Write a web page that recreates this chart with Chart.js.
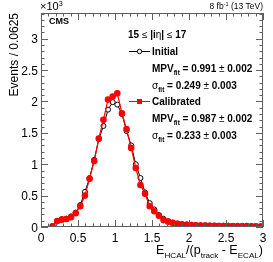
<!DOCTYPE html>
<html>
<head>
<meta charset="utf-8">
<script src="https://cdn.jsdelivr.net/npm/chart.js@4.4.1/dist/chart.umd.min.js"></script>
<style>
  html, body { margin: 0; padding: 0; background: #fff; }
  #wrap { width: 273px; height: 262px; position: relative; }
</style>
</head>
<body>
<div id="wrap"><canvas id="respChart" width="273" height="262"></canvas></div>
<script>
// bin centres of E_HCAL/(p_track - E_ECAL), bin width 0.0625
const binCenters = [0.156, 0.219, 0.281, 0.344, 0.406, 0.469, 0.531, 0.594, 0.656, 0.719,
  0.781, 0.844, 0.906, 0.969, 1.031, 1.094, 1.156, 1.219, 1.281, 1.344,
  1.406, 1.469, 1.531, 1.594, 1.656, 1.719, 1.781, 1.844, 1.906, 1.969,
  2.031, 2.094, 2.156, 2.219, 2.281, 2.344, 2.406, 2.469, 2.531, 2.594,
  2.656, 2.719, 2.781, 2.844, 2.906, 2.969];

// events (x10^3)
const initialEvents = [0.01, 0.09, 0.125, 0.13, 0.17, 0.23, 0.35, 0.56, 0.78, 1.07,
  1.40, 1.61, 1.87, 1.99, 1.95, 1.80, 1.53, 1.30, 1.00, 0.78,
  0.55, 0.38, 0.28, 0.19, 0.13, 0.09, 0.07, 0.055, 0.045, 0.04,
  0.035, 0.03, 0.028, 0.026, 0.024, 0.022, 0.021, 0.02, 0.02, 0.019,
  0.018, 0.018, 0.02, 0.012, 0.011, 0.01];
const calibratedEvents = [0.01, 0.096, 0.117, 0.128, 0.155, 0.22, 0.33, 0.50, 0.77, 1.05,
  1.41, 1.71, 2.03, 2.08, 2.13, 1.81, 1.56, 1.26, 0.94, 0.67,
  0.53, 0.33, 0.25, 0.18, 0.11, 0.085, 0.065, 0.05, 0.04, 0.035,
  0.03, 0.028, 0.025, 0.022, 0.02, 0.018, 0.016, 0.015, 0.014, 0.013,
  0.012, 0.011, 0.01, 0.01, 0.01, 0.009];

const xTickLabels = ['0', '0.5', '1', '1.5', '2', '2.5', '3'];
const yTickLabels = ['0', '0.5', '1', '1.5', '2', '2.5', '3'];

const FONT = '"Liberation Sans", Arial, Helvetica, sans-serif';

function toPoints(ys) {
  return binCenters.map((x, i) => ({ x: x, y: ys[i] }));
}

// text pieces: 'n' normal, 'r' normal size but regular weight, 'sub', 'sup'
function pieceFont(p, size, bold) {
  const s = (p[1] === 'sub' || p[1] === 'sup') ? size * 0.65 : size;
  const w = (bold && p[1] !== 'r') ? 'bold ' : '';
  return w + s + 'px ' + FONT;
}

function drawRich(ctx, parts, x, y, size, bold) {
  parts.forEach(p => {
    let dy = 0;
    if (p[1] === 'sub') dy = size * 0.3;
    if (p[1] === 'sup') dy = -size * 0.4;
    ctx.font = pieceFont(p, size, bold);
    ctx.fillText(p[0], x, y + dy);
    x += ctx.measureText(p[0]).width;
  });
  return x;
}

function richWidth(ctx, parts, size, bold) {
  let t = 0;
  parts.forEach(p => {
    ctx.font = pieceFont(p, size, bold);
    t += ctx.measureText(p[0]).width;
  });
  return t;
}

const rootFrame = {
  id: 'rootFrame',
  afterDraw(chart) {
    const ctx = chart.ctx;
    const xs = chart.scales.x, ys = chart.scales.y;
    const a = chart.chartArea;
    ctx.save();

    // frame
    ctx.strokeStyle = '#606060';
    ctx.lineWidth = 1;
    ctx.strokeRect(a.left + 0.5, a.top + 0.5, a.right - a.left - 1, a.bottom - a.top - 1);

    // ticks (inside, all four sides)
    ctx.beginPath();
    for (let i = 0; i <= 30; i++) {
      const v = i * 0.1;
      const px = Math.round(xs.getPixelForValue(v)) + 0.5;
      const len = i % 5 === 0 ? 7 : 3.5;
      ctx.moveTo(px, a.bottom); ctx.lineTo(px, a.bottom - len);
      ctx.moveTo(px, a.top); ctx.lineTo(px, a.top + len);
    }
    for (let i = 0; i <= 34; i++) {
      const v = i * 0.1;
      const py = Math.round(ys.getPixelForValue(v)) + 0.5;
      const len = i % 5 === 0 ? 7 : 3.5;
      ctx.moveTo(a.left, py); ctx.lineTo(a.left + len, py);
      ctx.moveTo(a.right, py); ctx.lineTo(a.right - len, py);
    }
    ctx.stroke();

    // tick labels
    ctx.fillStyle = '#000';
    ctx.font = '12px ' + FONT;
    ctx.textBaseline = 'alphabetic';
    ctx.textAlign = 'center';
    xTickLabels.forEach(l => {
      ctx.fillText(l, xs.getPixelForValue(parseFloat(l)), a.bottom + 15);
    });
    ctx.textAlign = 'right';
    yTickLabels.forEach(l => {
      ctx.fillText(l, a.left - 3, ys.getPixelForValue(parseFloat(l)) + 4.5);
    });

    // x10^3
    ctx.textAlign = 'left';
    drawRich(ctx, [['\u00d710', 'n'], ['3', 'sup']], a.left - 1, a.top - 3, 11, false);

    // y title
    ctx.save();
    ctx.translate(18, a.top);
    ctx.rotate(-Math.PI / 2);
    ctx.textAlign = 'right';
    ctx.font = '12px ' + FONT;
    ctx.fillText('Events / 0.0625', 0, 0);
    ctx.restore();

    // x title
    ctx.textAlign = 'left';
    const xt = [['E', 'n'], ['HCAL', 'sub'], ['/(p', 'n'], ['track', 'sub'], [' - E', 'n'], ['ECAL', 'sub'], [')', 'n']];
    drawRich(ctx, xt, a.right - richWidth(ctx, xt, 12.5, false), a.bottom + 27, 12.5, false);

    // lumi label
    const lumi = [['8 fb', 'n'], ['-1', 'sup'], [' (13 TeV)', 'n']];
    drawRich(ctx, lumi, a.right - richWidth(ctx, lumi, 8.5, false), 9, 8.5, false);

    // CMS
    ctx.font = 'bold 9px ' + FONT;
    ctx.fillText('CMS', 49, 24);

    // legend block
    const fs = 10;
    drawRich(ctx, [['15 ', 'n'], ['\u2264', 'r'], [' |i', 'n'], ['\u03b7', 'r'], ['| ', 'n'], ['\u2264', 'r'], [' 17', 'n']], 128, 38, fs, true);

    ctx.strokeStyle = '#000';
    ctx.lineWidth = 1;
    ctx.beginPath(); ctx.moveTo(129, 51.5); ctx.lineTo(150, 51.5); ctx.stroke();
    ctx.fillStyle = '#fff';
    ctx.beginPath(); ctx.arc(139.5, 51.5, 2.2, 0, Math.PI * 2); ctx.fill(); ctx.stroke();
    ctx.fillStyle = '#000';
    drawRich(ctx, [['Initial', 'n']], 152, 55, fs, true);
    drawRich(ctx, [['MPV', 'n'], ['fit', 'sub'], [' = 0.991 ', 'n'], ['\u00b1', 'r'], [' 0.002', 'n']], 152, 72, fs, true);
    drawRich(ctx, [['\u03c3', 'r'], ['fit', 'sub'], [' = 0.249 ', 'n'], ['\u00b1', 'r'], [' 0.003', 'n']], 152, 88.5, fs, true);

    ctx.strokeStyle = '#ff0000';
    ctx.beginPath(); ctx.moveTo(129, 101.5); ctx.lineTo(150, 101.5); ctx.stroke();
    ctx.fillStyle = '#ff0000';
    ctx.fillRect(137, 99, 5, 5);
    ctx.fillStyle = '#000';
    drawRich(ctx, [['Calibrated', 'n']], 152, 105, fs, true);
    drawRich(ctx, [['MPV', 'n'], ['fit', 'sub'], [' = 0.987 ', 'n'], ['\u00b1', 'r'], [' 0.002', 'n']], 152, 122, fs, true);
    drawRich(ctx, [['\u03c3', 'r'], ['fit', 'sub'], [' = 0.233 ', 'n'], ['\u00b1', 'r'], [' 0.003', 'n']], 152, 138.5, fs, true);

    ctx.restore();
  }
};

document.addEventListener('DOMContentLoaded', function() {
  const ctx = document.getElementById('respChart').getContext('2d');
  new Chart(ctx, {
    type: 'line',
    data: {
      datasets: [{
        label: 'Calibrated',
        data: toPoints(calibratedEvents),
        borderColor: '#ff0000',
        backgroundColor: '#ff0000',
        borderWidth: 1.2,
        pointRadius: 2.7,
        pointStyle: 'circle',
        tension: 0,
        order: 0
      }, {
        label: 'Initial',
        data: toPoints(initialEvents),
        borderColor: '#000',
        backgroundColor: '#fff',
        borderWidth: 1,
        pointRadius: 2.5,
        pointBorderWidth: 1,
        tension: 0,
        order: 1
      }]
    },
    options: {
      responsive: false,
      animation: false,
      devicePixelRatio: 1,
      layout: { padding: { left: 41, right: 10, top: 13, bottom: 35 } },
      plugins: { legend: { display: false }, tooltip: { enabled: false } },
      scales: {
        x: { type: 'linear', min: 0, max: 3, display: false },
        y: { type: 'linear', min: 0, max: 3.41, display: false }
      }
    },
    plugins: [rootFrame]
  });
});
</script>
</body>
</html>
